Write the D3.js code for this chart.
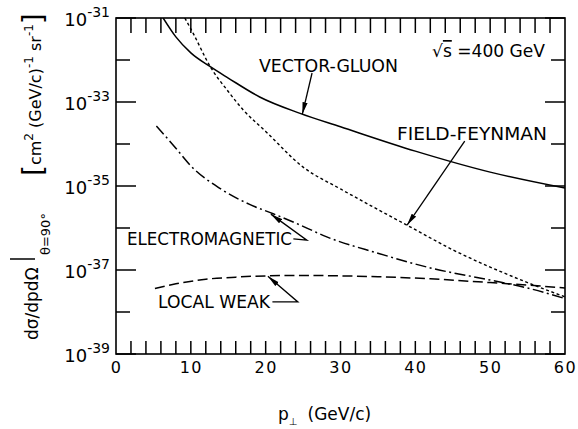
<!DOCTYPE html>
<html><head><meta charset="utf-8">
<script src="https://cdn.jsdelivr.net/npm/d3@7"></script>
<style>
html,body{margin:0;padding:0;background:#fff;}
svg{display:block;font-family:"DejaVu Sans",sans-serif;}
</style></head><body>
<svg id="chart" width="578" height="429"></svg>
<script>
// p_T sample points (GeV/c) and log10 of dσ/dp dΩ at θ = 90° for each model
const vectorGluonPt  = [6.3, 8, 10, 12.6, 15, 19.2, 24.6, 30, 40, 50, 60];
const vectorGluonLog = [-31, -31.45, -31.83, -32.16, -32.43, -32.88, -33.27, -33.59, -34.17, -34.67, -35.05];

const fieldFeynmanPt  = [9.2, 10.3, 12.6, 15, 17, 20, 25, 30, 35, 40, 45, 50, 55, 60];
const fieldFeynmanLog = [-31, -31.36, -32.16, -32.75, -33.19, -33.7, -34.55, -35.07, -35.56, -36.04, -36.52, -36.93, -37.3, -37.64];

const electromagneticPt  = [5.4, 8, 10, 14, 18, 21, 25, 28, 35, 42, 50, 55, 60];
const electromagneticLog = [-33.57, -34.1, -34.52, -35.07, -35.45, -35.66, -35.96, -36.2, -36.6, -36.95, -37.24, -37.43, -37.68];

const localWeakPt  = [5.2, 8, 12, 16, 20, 25, 30, 35, 42, 50, 55, 60];
const localWeakLog = [-37.44, -37.33, -37.22, -37.17, -37.14, -37.13, -37.14, -37.16, -37.21, -37.3, -37.36, -37.43];

// axis ticks
const xLabelTicks = [0, 10, 20, 30, 40, 50, 60];
const xMinorTicks = [2, 4, 6, 8, 10, 12, 14, 16, 18, 20, 22, 24, 26, 28, 30,
                     32, 34, 36, 38, 40, 42, 44, 46, 48, 50, 52, 54, 56, 58];
const yMajorExp = [-39, -37, -35, -33, -31];
const yMinorExp = [-38, -36, -34, -32];

const svg = d3.select("#chart");
const pL = 116, pR = 565, pT = 18, pB = 354;

const x = d3.scaleLinear().domain([0, 60]).range([pL, pR]);
const y = d3.scaleLog().domain([1e-39, 1e-31]).range([pB, pT]);
const yv = e => y(Math.pow(10, e));

const defs = svg.append("defs");
defs.append("clipPath").attr("id", "plotClip")
  .append("rect").attr("x", pL).attr("y", pT).attr("width", pR - pL).attr("height", pB - pT);
defs.append("marker").attr("id", "arrowHead")
  .attr("viewBox", "0 -3 12 6").attr("refX", 12).attr("refY", 0)
  .attr("markerWidth", 12).attr("markerHeight", 6)
  .attr("markerUnits", "userSpaceOnUse").attr("orient", "auto")
  .append("path").attr("d", "M0,-2.6L12,0L0,2.6Z").attr("fill", "#000");

// frame
svg.append("rect").attr("x", pL).attr("y", pT).attr("width", pR - pL).attr("height", pB - pT)
  .attr("fill", "none").attr("stroke", "#000").attr("stroke-width", 1.6);

// inward-pointing ticks: short segments in data units, drawn through the scales
const segLine = d3.line().x(d => x(d[0])).y(d => yv(d[1]));
const pxPerDecade = 42, pxPerUnit = (pR - pL) / 60;
const tickSegs = [];
xMinorTicks.forEach(d => {
  tickSegs.push([[d, -39], [d, -39 + 13 / pxPerDecade]]);
  tickSegs.push([[d, -31], [d, -31 - 15 / pxPerDecade]]);
});
yMajorExp.forEach(e => {
  tickSegs.push([[0, e], [20 / pxPerUnit, e]]);
  tickSegs.push([[60, e], [60 - 20 / pxPerUnit, e]]);
});
yMinorExp.forEach(e => {
  tickSegs.push([[0, e], [14 / pxPerUnit, e]]);
  tickSegs.push([[60, e], [60 - 14 / pxPerUnit, e]]);
});
tickSegs.forEach(seg => {
  svg.append("path").attr("d", segLine(seg)).attr("fill", "none")
    .attr("stroke", "#000").attr("stroke-width", 1.5);
});

// x tick labels
const xLab = svg.append("g").attr("transform", `translate(0,${pB})`)
  .call(d3.axisBottom(x).tickValues(xLabelTicks).tickSize(0).tickPadding(8));
xLab.select(".domain").remove();
xLab.selectAll("text").attr("font-family", "DejaVu Sans").attr("font-size", 16)
  .attr("letter-spacing", 1.5).attr("fill", "#000");

// y tick labels 10^n
yMajorExp.forEach(e => {
  const t = svg.append("text").attr("x", 110).attr("y", yv(e) + 8)
    .attr("text-anchor", "end").attr("font-size", 18).attr("fill", "#000");
  t.append("tspan").text("10");
  t.append("tspan").attr("dy", -9).attr("font-size", 14).text("-" + Math.abs(e));
});

// curves
const lineGen = d3.line().x(d => x(d[0])).y(d => yv(d[1])).curve(d3.curveMonotoneX);
const plot = svg.append("g").attr("clip-path", "url(#plotClip)");
const series = [
  { pt: vectorGluonPt, v: vectorGluonLog, dash: null, w: 1.5 },
  { pt: fieldFeynmanPt, v: fieldFeynmanLog, dash: "3,2.6", w: 1.4 },
  { pt: electromagneticPt, v: electromagneticLog, dash: "11,3.5,2,3.5", w: 1.5 },
  { pt: localWeakPt, v: localWeakLog, dash: "10,4.5", w: 1.5 }
];
series.forEach(s => {
  plot.append("path").datum(d3.zip(s.pt, s.v)).attr("d", lineGen)
    .attr("fill", "none").attr("stroke", "#000").attr("stroke-width", s.w)
    .attr("stroke-dasharray", s.dash);
});

// curve labels
function label(txt, xp, yp, len) {
  svg.append("text").attr("x", xp).attr("y", yp).attr("font-size", 17.5).attr("fill", "#000")
    .attr("textLength", len).attr("lengthAdjust", "spacingAndGlyphs").text(txt);
}
label("VECTOR-GLUON", 259, 72, 139);
label("FIELD-FEYNMAN", 397, 140, 150);
label("ELECTROMAGNETIC", 127, 245, 165);
label("LOCAL WEAK", 158, 308, 112);

// energy note
const rs = svg.append("text").attr("x", 432).attr("y", 57).attr("font-size", 17).attr("fill", "#000")
  .attr("textLength", 113).attr("lengthAdjust", "spacingAndGlyphs");
rs.append("tspan").text("√");
rs.append("tspan").attr("text-decoration", "overline").text("s");
rs.append("tspan").text(" =400 GeV");

// leader arrows, anchored in data coordinates
function arrow(pts) {
  svg.append("path").attr("d", segLine(pts)).attr("fill", "none")
    .attr("stroke", "#000").attr("stroke-width", 1.3).attr("marker-end", "url(#arrowHead)");
}
arrow([[26.2, -32.31], [24.9, -33.29]]);
arrow([[46.6, -33.93], [38.9, -35.93]]);
arrow([[23.7, -36.26], [25.5, -36.29], [20.7, -35.67]]);
arrow([[20.9, -37.76], [24.3, -37.76], [20.3, -37.15]]);

// x axis title
const xt = svg.append("text").attr("x", 278).attr("y", 420).attr("font-size", 17).attr("fill", "#000");
xt.append("tspan").text("p");
xt.append("tspan").attr("dy", 5).attr("font-size", 10).text("⊥");
xt.append("tspan").attr("dy", -5).attr("dx", 10).text("(GeV/c)");

// y axis title (rotated)
svg.append("text").attr("transform", "translate(38,340) rotate(-90)")
  .attr("font-size", 17).attr("fill", "#000").text("dσ/dpdΩ");
svg.append("path").attr("d", "M10,259L35,259").attr("fill", "none")
  .attr("stroke", "#000").attr("stroke-width", 1.5);
svg.append("text").attr("transform", "translate(50,255) rotate(-90)")
  .attr("font-size", 13).attr("fill", "#000").text("θ=90°");
const yt2 = svg.append("text").attr("transform", "translate(41,176) rotate(-90)")
  .attr("font-size", 16).attr("fill", "#000");
yt2.append("tspan").attr("font-size", 28).attr("dy", 2).text("[");
yt2.append("tspan").attr("dy", -2).text("cm");
yt2.append("tspan").attr("dy", -8).attr("font-size", 12).text("2");
yt2.append("tspan").attr("dy", 8).text(" (GeV/c)");
yt2.append("tspan").attr("dy", -8).attr("font-size", 12).text("-1");
yt2.append("tspan").attr("dy", 8).text(" sr");
yt2.append("tspan").attr("dy", -8).attr("font-size", 12).text("-1");
yt2.append("tspan").attr("dy", 10).attr("font-size", 28).text("]");
</script>
</body></html>
